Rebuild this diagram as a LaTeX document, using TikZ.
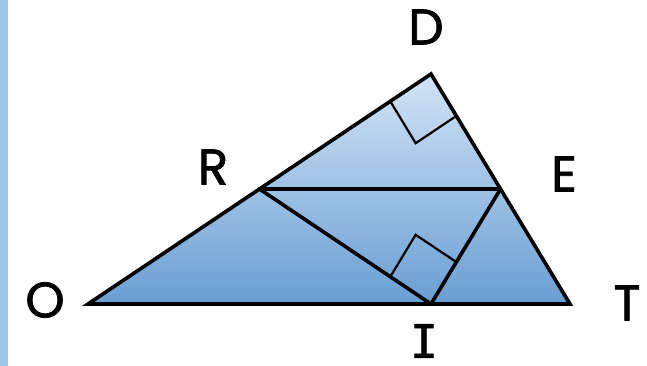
\documentclass[tikz,border=0pt]{standalone}
\usepackage{fontspec}
\setsansfont{Poppins}[UprightFeatures={FakeBold=1.5}]
\newfontfamily\slabfont{DejaVu Sans Mono}[FakeBold=1.5]
\usetikzlibrary{calc}
\definecolor{sidebar}{HTML}{9FC5E8}
\definecolor{topfill}{HTML}{D3E4F6}
\definecolor{botfill}{HTML}{699ED3}

\begin{document}
\begin{tikzpicture}[x=1pt, y=-1pt,
  font=\sffamily\fontsize{50}{50}\selectfont,
  edge/.style={line width=3.6pt, line join=miter, line cap=round},
  rightangle/.style={line width=2.2pt, line join=miter},
  lbl/.style={inner sep=0pt}
]
\useasboundingbox (0,0) rectangle (647,366);
\fill[sidebar] (0,0) rectangle (8,366);

\coordinate (O) at (88,304);
\coordinate (D) at (431,74);
\coordinate (T) at (570,304);
\coordinate (R) at ($(O)!0.5!(D)$);
\coordinate (E) at ($(D)!0.5!(T)$);
\coordinate (I) at (431,304);

\shade[top color=topfill, bottom color=botfill] (O) -- (D) -- (T) -- cycle;

% right angle at D and at I
\coordinate (d1) at ($(D)!49pt!(O)$);
\coordinate (d2) at ($(D)!49pt!(T)$);
\draw[rightangle] (d1) -- ($(d1)+(d2)-(D)$) -- (d2);
\coordinate (i1) at ($(I)!49pt!(R)$);
\coordinate (i2) at ($(I)!49pt!(E)$);
\draw[rightangle] (i1) -- ($(i1)+(i2)-(I)$) -- (i2);

\draw[edge] (O) -- (D) -- (T) -- cycle;
\draw[edge] (R) -- (E);
\draw[edge] (R) -- (I);
\draw[edge] (I) -- (E);

\node[lbl] (labelD) at (426,27) {D};
\node[lbl] (labelR) at (213,167) {R};
\node[lbl] (labelE) at (564,174) {E};
\node[lbl] (labelO) at (45,300) {O};
\node[lbl] (labelT) at (627,303) {T};
\node[lbl, font=\slabfont\fontsize{46}{46}\selectfont] (labelI) at (424,341) {I};
\end{tikzpicture}
\end{document}
